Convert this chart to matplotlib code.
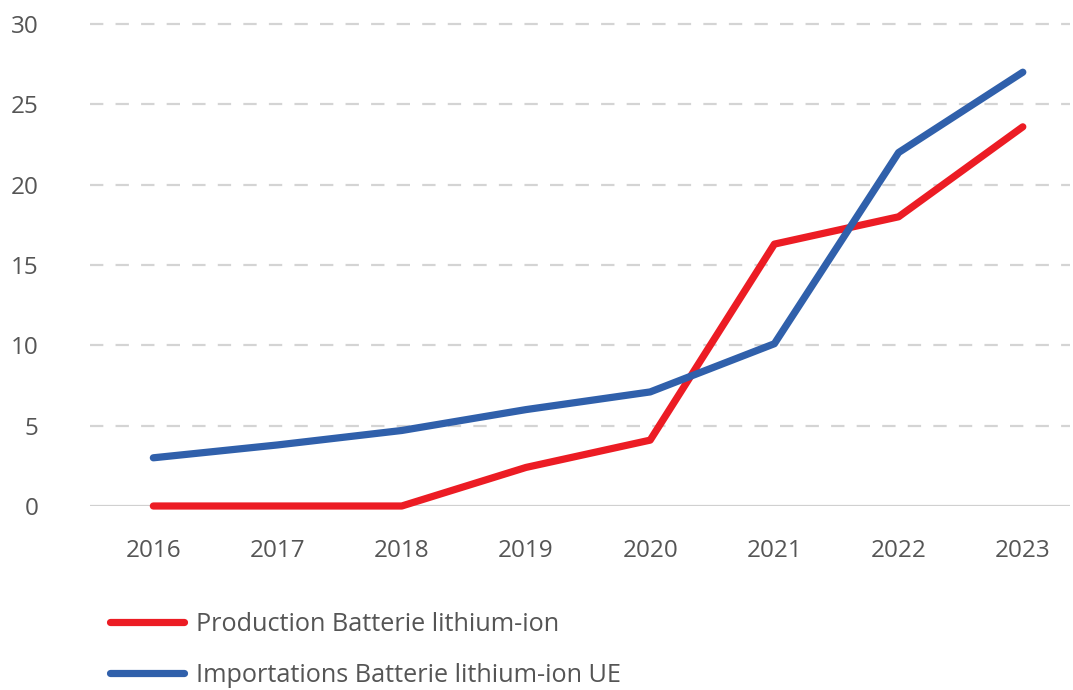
import matplotlib.pyplot as plt

years = [2016, 2017, 2018, 2019, 2020, 2021, 2022, 2023]
production = [0, 0, 0, 2.4, 4.1, 16.3, 18.0, 23.6]
importations = [3.0, 3.8, 4.7, 6.0, 7.1, 10.1, 22.0, 27.0]
labels = ["Production Batterie lithium-ion", "Importations Batterie lithium-ion UE"]

plt.rcParams['font.family'] = ['Open Sans', 'DejaVu Sans']
text_color = "#555555"

fig = plt.figure(figsize=(10.73, 6.9), dpi=100)
ax = fig.add_axes([90 / 1073, 1 - 506 / 690, 980 / 1073, 482 / 690])

for y in [5, 10, 15, 20, 25, 30]:
    ax.axhline(y, color="#d4d4d4", lw=1.6, dashes=(6, 5.5), zorder=1, clip_on=False)
ax.axhline(0, color="#d0d0d0", lw=1.6, zorder=1)

ax.plot(years, production, color="#ec1c24", lw=5.2, solid_capstyle="round",
        solid_joinstyle="round", label=labels[0], zorder=3, clip_on=False)
ax.plot(years, importations, color="#3060ab", lw=5.2, solid_capstyle="round",
        solid_joinstyle="round", label=labels[1], zorder=3, clip_on=False)

ax.set_xlim(2015.49, 2023.38)
ax.set_ylim(0, 30)
ax.set_xticks(years)
ax.set_yticks([0, 5, 10, 15, 20, 25, 30])
ax.tick_params(axis="both", length=0, labelsize=17.5, colors=text_color)
ax.tick_params(axis="y", pad=37)
ax.tick_params(axis="x", pad=24)
for lbl in ax.get_yticklabels():
    lbl.set_horizontalalignment("right")
for s in ax.spines.values():
    s.set_visible(False)

fig.legend(loc="upper left", bbox_to_anchor=(102 / 1073, 1 - 604 / 690),
           frameon=False, fontsize=18.2, labelcolor=text_color,
           handlelength=2.95, handletextpad=0.45, labelspacing=1.05,
           borderaxespad=0, borderpad=0.3)

fig.savefig("out.png", dpi=100)
